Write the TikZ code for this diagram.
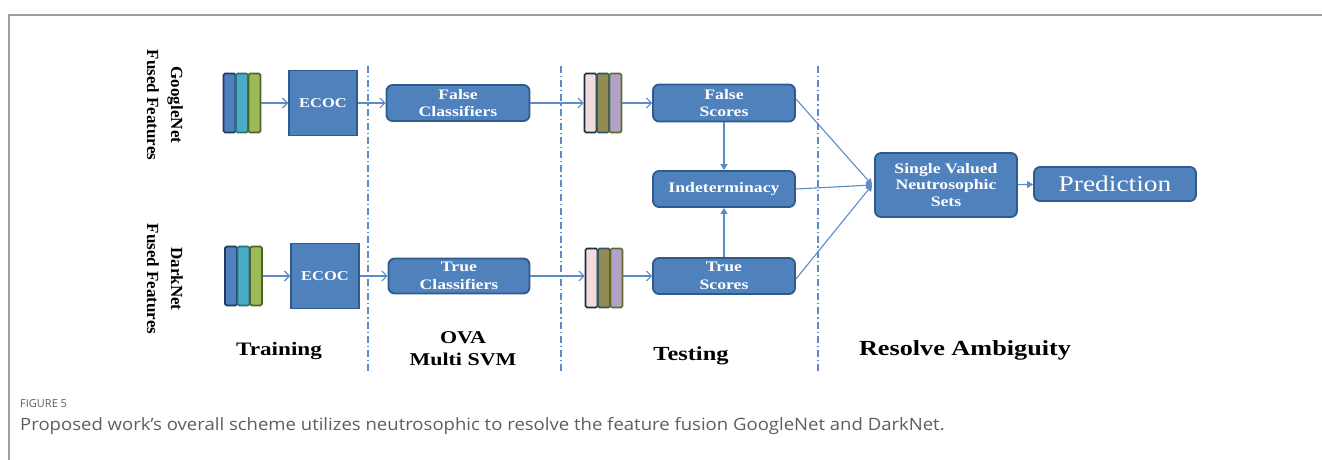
\documentclass[tikz,border=0pt]{standalone}
\usepackage{fontspec}
\setmainfont{Liberation Serif}
\newfontfamily\widefont[FakeStretch=1.22]{Liberation Serif}
\newfontfamily\capfont[FakeStretch=1.09]{Open Sans}
\newfontfamily\capfonthead{Open Sans}
\usetikzlibrary{arrows.meta}
\definecolor{boxfill}{HTML}{4F81BD}
\definecolor{boxline}{HTML}{2F5A8C}
\definecolor{arr}{HTML}{5B8BC8}
\definecolor{dashc}{HTML}{5B8BC8}
\definecolor{capgray}{HTML}{5E5E5E}
\definecolor{barblue}{HTML}{4F81BD}
\definecolor{barblueb}{HTML}{1F3A60}
\definecolor{barcyan}{HTML}{4BACC6}
\definecolor{barcyanb}{HTML}{2A6F80}
\definecolor{bargreen}{HTML}{9BBB59}
\definecolor{bargreenb}{HTML}{4F6228}
\definecolor{barpink}{HTML}{F2DCDB}
\definecolor{barpinkb}{HTML}{1F2A44}
\definecolor{barolive}{HTML}{948A54}
\definecolor{barolivb}{HTML}{2A5A6A}
\definecolor{barlav}{HTML}{B3A2C7}
\definecolor{barlavb}{HTML}{5F6B2A}
\tikzset{
  rbox/.style={draw=boxline, fill=boxfill, rounded corners=6pt, line width=1.8pt,
    text=white, font=\widefont\bfseries\fontsize{14.5}{17.5}\selectfont, align=center,
    inner sep=0pt},
  sbox/.style={draw=boxline, fill=boxfill, line width=1.5pt, text=white,
    font=\widefont\bfseries\fontsize{13.5}{15}\selectfont, inner sep=0pt,
    minimum width=68pt, minimum height=65pt},
  bar/.style={rounded corners=1.5pt, line width=1.6pt, minimum width=12pt,
    minimum height=59pt, inner sep=0pt},
  flow/.style={draw=arr, line width=1.1pt, -{Straight Barb[length=5pt,width=10pt]}},
  flowt/.style={draw=arr, line width=1.1pt, -{Triangle[length=6pt,width=7pt]}},
  sep/.style={draw=dashc, line width=1.2pt, dash pattern=on 7pt off 3pt on 1.2pt off 3pt},
  side/.style={font=\bfseries\fontsize{17}{24}\selectfont, align=center, rotate=-90},
  bottom/.style={font=\widefont\bfseries\fontsize{19}{22}\selectfont, align=center},
}
\begin{document}
\begin{tikzpicture}[x=1pt,y=-1pt]
\useasboundingbox (0,0) rectangle (1322,460);
% frame
\draw[gray!75, line width=1.4pt] (9,460) -- (9,15) -- (1322,15);

% side labels
\node[side] (gl) at (165,105) {GoogleNet\\Fused Features};
\node[side] (dl) at (165,279) {DarkNet\\Fused Features};

% stacks row 1
\node[bar, fill=barblue, draw=barblueb] (a1) at (229.5,103) {};
\node[bar, fill=barcyan, draw=barcyanb] (a2) at (242,103) {};
\node[bar, fill=bargreen, draw=bargreenb] (a3) at (254.5,103) {};
\node[bar, fill=barblue, draw=barblueb] (b1) at (231,276) {};
\node[bar, fill=barcyan, draw=barcyanb] (b2) at (243.5,276) {};
\node[bar, fill=bargreen, draw=bargreenb] (b3) at (256,276) {};

% ECOC
\node[sbox] (e1) at (323,103) {ECOC};
\node[sbox] (e2) at (325,276) {ECOC};

% separators
\coordinate (s1t) at (368,66); \coordinate (s1b) at (368,374);
\coordinate (s2t) at (561,66); \coordinate (s2b) at (561,374);
\coordinate (s3t) at (818,66); \coordinate (s3b) at (818,374);
\draw[sep] (s1t) -- (s1b);
\draw[sep] (s2t) -- (s2b);
\draw[sep] (s3t) -- (s3b);

% classifiers
\node[rbox, minimum width=143pt, minimum height=36pt] (fc) at (458,103) {False\\Classifiers};
\node[rbox, minimum width=141pt, minimum height=35pt] (tc) at (459,276) {True\\Classifiers};

% stacks row 2
\node[bar, fill=barpink, draw=barpinkb] (c1) at (590.5,103) {};
\node[bar, fill=barolive, draw=barolivb] (c2) at (603,103) {};
\node[bar, fill=barlav, draw=barlavb] (c3) at (615.5,103) {};
\node[bar, fill=barpink, draw=barpinkb] (d1) at (591.5,278) {};
\node[bar, fill=barolive, draw=barolivb] (d2) at (604,278) {};
\node[bar, fill=barlav, draw=barlavb] (d3) at (616.5,278) {};

% scores
\node[rbox, minimum width=142pt, minimum height=37pt] (fs) at (724,103) {False\\Scores};
\node[rbox, minimum width=142pt, minimum height=36pt] (ind) at (724,189) {Indeterminacy};
\node[rbox, minimum width=142pt, minimum height=36pt] (ts) at (724,276) {True\\Scores};

% SVNS and prediction
\node[rbox, minimum width=142pt, minimum height=64pt, font=\widefont\bfseries\fontsize{14.5}{16.5}\selectfont] (sv) at (946,185) {Single Valued\\Neutrosophic\\Sets};
\node[rbox, minimum width=162pt, minimum height=34pt, font=\widefont\fontsize{22.5}{24}\selectfont] (pr) at (1115,184) {Prediction};

% arrows
\draw[flow] (a3) -- (e1);
\draw[flow] (b3) -- (e2);
\draw[flow] (e1) -- (fc);
\draw[flow] (e2) -- (tc);
\draw[flow] (fc) -- (c1);
\draw[flow] (tc.east) -- (d1.west |- tc.east);
\draw[flow] (c3) -- (fs);
\draw[flow] (d3.east |- ts.west) -- (ts.west);
\draw[flowt] (fs) -- (ind);
\draw[flowt] (ts) -- (ind);
\coordinate (conv) at ([xshift=-2pt]sv.west);
\draw[flowt] ([yshift=4pt]fs.east) -- (conv);
\draw[flowt] (ind.east) -- (conv);
\draw[flowt] ([yshift=-3pt]ts.east) -- (conv);
\draw[flowt] (sv) -- (pr);

% bottom labels
\node[bottom] (l1) at (279,351) {Training};
\node[bottom, font=\widefont\bfseries\fontsize{18}{22}\selectfont] (l2) at (463,349) {OVA\\Multi SVM};
\node[bottom, font=\widefont\bfseries\fontsize{20}{22}\selectfont] (l3) at (691,356) {Testing};
\node[bottom, font=\widefont\bfseries\fontsize{21.5}{24}\selectfont] (l4) at (965,350) {Resolve Ambiguity};

% caption
\node[anchor=west, font=\capfonthead\fontsize{11}{12}\selectfont, text=capgray, inner sep=0pt] (cap1) at (20,404) {FIGURE 5};
\node[anchor=west, font=\capfont\fontsize{17}{19}\selectfont, text=capgray, inner sep=0pt] (cap2) at (20,426) {Proposed work’s overall scheme utilizes neutrosophic to resolve the feature fusion GoogleNet and DarkNet.};
\end{tikzpicture}
\end{document}
